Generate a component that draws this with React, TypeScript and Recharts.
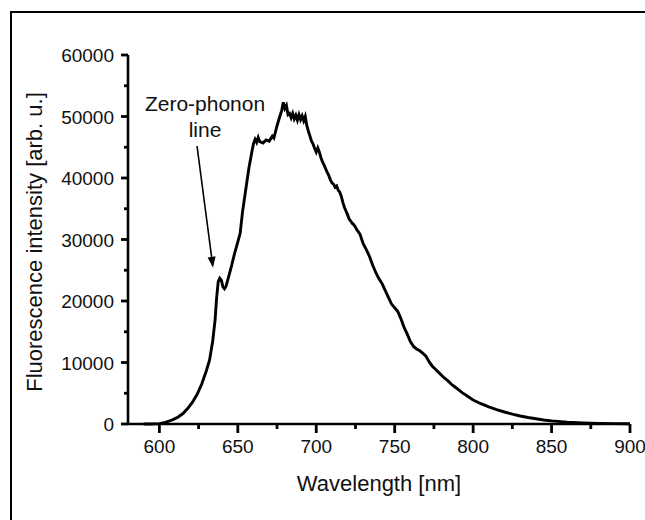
import { LineChart, Line, XAxis, YAxis, ReferenceLine } from 'recharts';

// spectrum
const wavelengthNm = [
    590, 595, 600, 603, 606, 609, 612, 615, 618, 621, 624, 627, 630, 632, 634, 635.5, 636.5, 637.5, 638.5, 639.5,
    640.5, 641.5, 642.5, 644, 646, 648, 650, 651.5, 653, 655, 657, 659, 660, 661, 662, 663, 664, 666, 668, 670,
    672, 673, 675, 677, 678, 679, 680, 681, 682, 683, 684, 685, 686, 687, 688, 689, 690, 691, 692, 693,
    694, 695, 696, 697, 698, 699, 700, 701, 702, 703, 704, 705, 706, 707, 708, 709, 710, 711, 712, 713,
    714, 715, 716, 717, 718, 719, 720, 721, 722, 723, 724, 725, 726, 727, 728, 729, 730, 732, 734, 736,
    738, 740, 742, 744, 746, 748, 750, 752, 754, 756, 758, 760, 762, 764, 766, 768, 770, 772, 774, 776,
    778, 780, 782, 784, 786, 788, 790, 793, 796, 800, 805, 810, 815, 820, 825, 830, 835, 840, 845, 850,
    860, 870, 880, 890, 900,
];
const intensity = [
    0, 0, 60, 200, 450, 750, 1150, 1700, 2500, 3500, 4800, 6500, 8700, 10400, 13500, 16900, 20500, 23100, 23700, 23400,
    22300, 22000, 22400, 23800, 25700, 27800, 29600, 31000, 34500, 38000, 41500, 44300, 45600, 46300, 45800, 46600, 45900, 45700, 46200, 46000,
    46800, 46500, 48500, 50200, 51000, 52300, 51300, 51800, 50300, 50500, 49800, 50500, 49600, 50200, 49400, 50300, 49500, 50100, 49300, 50000,
    48500, 47600, 46800, 46000, 45500, 44800, 44200, 44900, 44200, 43300, 42600, 42100, 41500, 40900, 40400, 39700, 39200, 39000, 38500, 38700,
    38000, 37700, 37000, 36000, 35200, 34600, 34000, 33300, 33000, 32600, 32400, 32000, 31500, 31200, 30800, 30000, 29300, 28300, 27200, 25800,
    24600, 23600, 22800, 21700, 20600, 19500, 18900, 18300, 17100, 15700, 14600, 13400, 12600, 12200, 11900, 11500, 11000, 10100, 9400, 8900,
    8400, 7900, 7400, 7000, 6500, 6100, 5700, 5100, 4600, 3900, 3300, 2800, 2350, 1950, 1600, 1300, 1050, 850, 650, 500,
    300, 180, 100, 60, 30,
];

const xTicks = [600, 625, 650, 675, 700, 725, 750, 775, 800, 825, 850, 875, 900];
const yTicks = [0, 5000, 10000, 15000, 20000, 25000, 30000, 35000, 40000, 45000, 50000, 55000, 60000];

// annotation arrow: from below the label down to the zero-phonon peak
const arrowFrom = { x: 624, y: 45200 };
const arrowTo = { x: 634.2, y: 25400 };

const data = wavelengthNm.map((w, i) => ({ wavelength: w, value: intensity[i] }));

const font = "Arial, 'Liberation Sans', sans-serif";
const ink = '#111';

// tick mark and label drawn together; minor ticks are shorter and unlabeled
function XTick(props: any) {
    const { x, y, payload } = props;
    const major = payload.value % 50 === 0;
    const cx = Number(x);
    const cy = Number(y);
    return (
        <g>
            <rect x={cx - 1.4} y={cy} width={2.8} height={major ? 9 : 5} fill="#000" />
            {major && (
                <text x={cx} y={cy + 29} textAnchor="middle" fontSize={19} fontFamily={font} fill={ink}>
                    {payload.value}
                </text>
            )}
        </g>
    );
}

function YTick(props: any) {
    const { x, y, payload } = props;
    const major = payload.value % 10000 === 0;
    const cx = Number(x);
    const cy = Number(y);
    const len = major ? 7 : 4;
    return (
        <g>
            <rect x={cx - len} y={cy - 1.4} width={len} height={2.8} fill="#000" />
            {major && (
                <text x={cx - 14} y={cy + 7} textAnchor="end" fontSize={19} fontFamily={font} fill={ink}>
                    {payload.value}
                </text>
            )}
        </g>
    );
}

function Arrow(props: any) {
    const { x1, y1, x2, y2 } = props;
    const ang = Math.atan2(y2 - y1, x2 - x1);
    const len = 11;
    const half = 4;
    const bx = x2 - len * Math.cos(ang);
    const by = y2 - len * Math.sin(ang);
    const px = -Math.sin(ang) * half;
    const py = Math.cos(ang) * half;
    return (
        <g>
            <line x1={x1} y1={y1} x2={bx} y2={by} stroke="#000" strokeWidth={1.6} />
            <polygon points={`${x2},${y2} ${bx + px},${by + py} ${bx - px},${by - py}`} fill="#000" />
            <text x={x1 + 8} y={y1 - 35} textAnchor="middle" fontSize={21} fontFamily={font} fill={ink}>
                Zero-phonon
            </text>
            <text x={x1 + 8} y={y1 - 9} textAnchor="middle" fontSize={21} fontFamily={font} fill={ink}>
                line
            </text>
        </g>
    );
}

export default function App() {
    return (
        <div style={{ position: 'fixed', left: 0, top: 0, width: 645, height: 520, background: '#fff', overflow: 'hidden' }}>
            {/* picture frame, only its top and left edges are inside the picture */}
            <div style={{ position: 'absolute', left: 10, top: 11, width: 635, height: 2, background: '#000' }} />
            <div style={{ position: 'absolute', left: 10, top: 11, width: 2, height: 509, background: '#000' }} />
            <div style={{ position: 'absolute', left: 0, top: 0 }}>
                <LineChart width={645} height={520} data={data} margin={{ top: 55, right: 15, bottom: 36, left: 48 }}>
                    <XAxis
                        dataKey="wavelength"
                        type="number"
                        domain={[580, 900]}
                        ticks={xTicks}
                        interval={0}
                        axisLine={{ stroke: '#000', strokeWidth: 2.6 }}
                        tickLine={false}
                        tickSize={0}
                        tickMargin={0}
                        tick={(p: any) => <XTick {...p} />}
                        height={60}
                        label={{
                            content: () => (
                                <text x={379} y={491} textAnchor="middle" fontSize={22} fontFamily={font} fill={ink}>
                                    Wavelength [nm]
                                </text>
                            ),
                        }}
                    />
                    <YAxis
                        type="number"
                        domain={[0, 60000]}
                        ticks={yTicks}
                        interval={0}
                        axisLine={{ stroke: '#000', strokeWidth: 2.6 }}
                        tickLine={false}
                        tickSize={0}
                        tickMargin={0}
                        tick={(p: any) => <YTick {...p} />}
                        width={80}
                        label={{
                            content: () => (
                                <text
                                    x={42}
                                    y={242}
                                    transform="rotate(-90 42 242)"
                                    textAnchor="middle"
                                    fontSize={22}
                                    fontFamily={font}
                                    fill={ink}
                                >
                                    Fluorescence intensity [arb. u.]
                                </text>
                            ),
                        }}
                    />
                    <Line
                        dataKey="value"
                        type="linear"
                        stroke="#000"
                        strokeWidth={2.9}
                        dot={false}
                        isAnimationActive={false}
                    />
                    <ReferenceLine
                        segment={[arrowFrom, arrowTo]}
                        ifOverflow="visible"
                        shape={(p: any) => <Arrow {...p} />}
                    />
                </LineChart>
            </div>
        </div>
    );
}
